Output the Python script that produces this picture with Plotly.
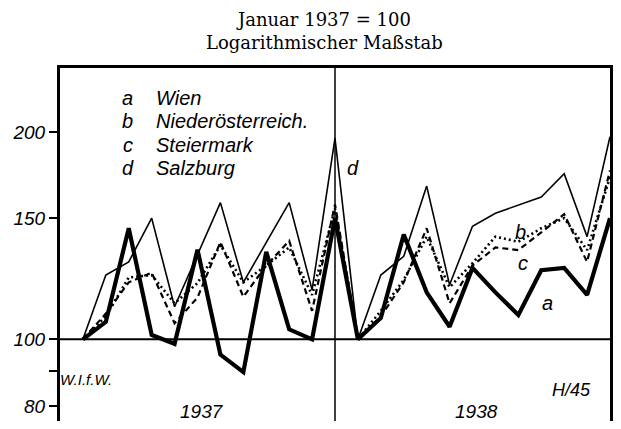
import plotly.graph_objects as go
import math

months = list(range(24))  # Jan 1937 .. Dec 1938

wien = [100, 106, 145, 101.5, 98.5, 135, 95, 89.6, 134, 103.4, 100, 150,
        100, 107.4, 142, 117, 104.3, 127, 117, 108.5, 126, 127, 116, 150]
niederoesterreich = [100, 109, 121, 125, 105.5, 115, 138.5, 115.3, 128, 139, 110, 157,
                     100, 108, 121, 145, 112.8, 128, 136, 134.8, 143, 152, 129.6, 176]
steiermark = [100, 108, 123, 124, 112.8, 120.7, 137, 121, 128, 136, 116, 155,
              100, 110, 122, 141, 119, 129, 141, 138.6, 145, 150, 134.8, 172]
salzburg = [100, 124, 129.6, 150, 111.5, 133, 158, 121, 138, 158, 118, 196,
            100, 124, 132, 167, 120, 146, 152.5, 156.6, 161, 174, 141, 197]

y_ticks = [80, 90, 100, 150, 200]
y_labels = ["80", "", "100", "150", "200"]

legend_letters = ["a", "b", "c", "d"]
legend_names = ["Wien", "Niederösterreich.", "Steiermark", "Salzburg"]

# page has an 8px body margin; the figure is sized to fit inside the window
OFF = 8
W, H = 621 - 2 * OFF, 429 - 2 * OFF
L, R, T, B = 60 - OFF, 1, 68 - OFF, 0
pw, ph = W - L - R, H - T - B

def px(x):
    return (x - OFF - L) / pw

def py(y):
    return (H - B - (y - OFF)) / ph

fig = go.Figure()
fig.add_trace(go.Scatter(x=months, y=salzburg, mode="lines",
                         line=dict(color="black", width=1.6)))
fig.add_trace(go.Scatter(x=months, y=niederoesterreich, mode="lines",
                         line=dict(color="black", width=2.2, dash="6px,4px")))
fig.add_trace(go.Scatter(x=months, y=steiermark, mode="lines",
                         line=dict(color="black", width=2.6, dash="2px,3px")))
fig.add_trace(go.Scatter(x=months, y=wien, mode="lines",
                         line=dict(color="black", width=4.2)))

# 100 reference line and year divider
fig.add_shape(type="line", xref="paper", yref="y", x0=0, x1=1, y0=100, y1=100,
              line=dict(color="black", width=2))
fig.add_shape(type="line", xref="x", yref="paper", x0=11, x1=11, y0=0, y1=1,
              line=dict(color="black", width=1.5))

sans = "Liberation Sans"
serif = "DejaVu Serif"

def note(x, y, text, size=18, family=sans, style="italic", xanchor="center"):
    fig.add_annotation(x=px(x), y=py(y), xref="paper", yref="paper", text=text,
                       showarrow=False, xanchor=xanchor, yanchor="middle",
                       font=dict(family=family, size=size, color="black", style=style))

# title (two lines)
note(325, 31, "Januar 1937 = 100<br>Logarithmischer Maßstab", size=18,
     family=serif, style="normal")

# legend
rows = [98, 121, 145, 168]
for letter, name, yy in zip(legend_letters, legend_names, rows):
    note(128, yy, letter, size=20)
    note(154, yy, name, size=20, xanchor="left")

# line labels
note(354, 168, "d", size=20)
note(522, 232, "b", size=20)
note(525, 263, "c", size=20)
note(549, 303, "a", size=20)

# corner texts and years
note(86, 379, "W.I.f.W.", size=15)
note(573, 390, "H/45", size=18)
note(203, 411, "1937", size=19)
note(478, 411, "1938", size=19)

# plot spans page y 68..421: 100 at page y 339.3, 688 px per decade
y_top = 100 * 10 ** ((339.3 - 68) / 688)
y_bot = 100 * 10 ** ((339.3 - 421) / 688)

fig.update_layout(
    width=W, height=H,
    margin=dict(l=L, r=R, t=T, b=B),
    paper_bgcolor="white", plot_bgcolor="white",
    showlegend=False,
    xaxis=dict(range=[-1, 23], showgrid=False, zeroline=False, showticklabels=False,
               ticks="", showline=True, mirror=True, linecolor="black", linewidth=3),
    yaxis=dict(type="log", range=[math.log10(y_bot), math.log10(y_top)],
               tickvals=y_ticks, ticktext=y_labels, showgrid=False, zeroline=False,
               ticks="outside", ticklen=8, tickwidth=1.5, tickcolor="black",
               showline=True, mirror=True, linecolor="black", linewidth=3,
               tickfont=dict(family=sans, size=19, color="black", style="italic")),
)

fig.write_html("out.html")
